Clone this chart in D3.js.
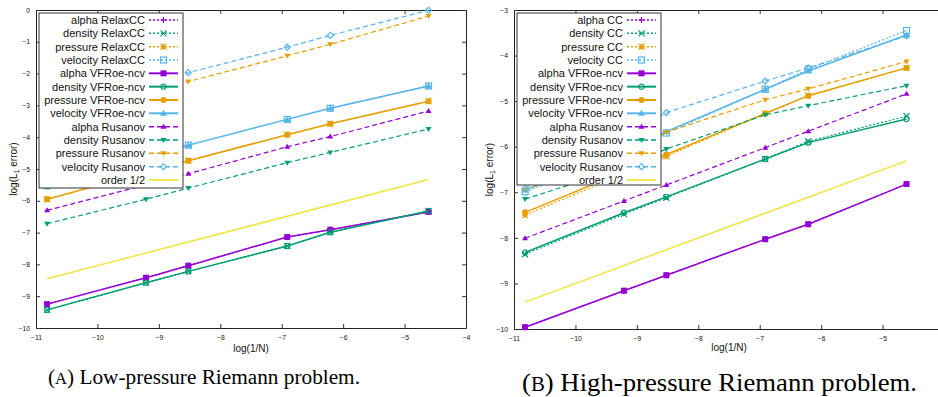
<!DOCTYPE html>
<html><head><meta charset="utf-8">
<script src="https://cdn.jsdelivr.net/npm/d3@7"></script>
<style>body{margin:0;background:#fff} svg{display:block}</style>
</head><body>
<svg id="c" width="938" height="397"></svg>
<script>
// ---------- DATA ----------
const logInvN = [-10.82, -9.21, -8.52, -6.91, -6.21, -4.61];
const orderX = [-10.82, -4.61];
const xTicks = [-11, -10, -9, -8, -7, -6, -5, -4];
const lowYTicks = [-10, -9, -8, -7, -6, -5, -4, -3, -2, -1, 0];
const highYTicks = [-10, -9, -8, -7, -6, -5, -4, -3];

const lowLabels = ["alpha RelaxCC", "density RelaxCC", "pressure RelaxCC", "velocity RelaxCC",
  "alpha VFRoe-ncv", "density VFRoe-ncv", "pressure VFRoe-ncv", "velocity VFRoe-ncv",
  "alpha Rusanov", "density Rusanov", "pressure Rusanov", "velocity Rusanov", "order 1/2"];
const highLabels = ["alpha CC", "density CC", "pressure CC", "velocity CC",
  "alpha VFRoe-ncv", "density VFRoe-ncv", "pressure VFRoe-ncv", "velocity VFRoe-ncv",
  "alpha Rusanov", "density Rusanov", "pressure Rusanov", "velocity Rusanov", "order 1/2"];

// Low-pressure Riemann problem
const lowAlphaRelaxCC    = [-9.25, -8.42, -8.04, -7.14, -6.91, -6.35];
const lowDensityRelaxCC  = [-9.43, -8.58, -8.22, -7.42, -6.99, -6.32];
const lowPressureRelaxCC = [-5.95, -5.10, -4.74, -3.92, -3.58, -2.87];
const lowVelocityRelaxCC = [-5.53, -4.62, -4.25, -3.44, -3.09, -2.39];
const lowAlphaVFRoe      = [-9.25, -8.42, -8.04, -7.14, -6.91, -6.35];
const lowDensityVFRoe    = [-9.43, -8.58, -8.22, -7.42, -6.99, -6.32];
const lowPressureVFRoe   = [-5.95, -5.10, -4.74, -3.92, -3.58, -2.87];
const lowVelocityVFRoe   = [-5.53, -4.62, -4.25, -3.44, -3.09, -2.39];
const lowAlphaRusanov    = [-6.30, -5.50, -5.15, -4.30, -3.98, -3.18];
const lowDensityRusanov  = [-6.72, -5.95, -5.60, -4.80, -4.48, -3.74];
const lowPressureRusanov = [-3.50, -2.65, -2.25, -1.44, -1.08, -0.19];
const lowVelocityRusanov = [-3.30, -2.40, -1.97, -1.17, -0.80, -0.01];
const lowOrder           = [-8.45, -5.33];

// High-pressure Riemann problem
const highAlphaCC        = [-9.96, -9.16, -8.82, -8.03, -7.70, -6.82];
const highDensityCC      = [-8.36, -7.48, -7.12, -6.27, -5.88, -5.33];
const highPressureCC     = [-7.50, -6.60, -6.21, -5.27, -4.88, -4.27];
const highVelocityCC     = [-6.99, -6.15, -5.70, -4.74, -4.30, -3.45];
const highAlphaVFRoe     = [-9.96, -9.16, -8.82, -8.03, -7.70, -6.82];
const highDensityVFRoe   = [-8.32, -7.45, -7.10, -6.27, -5.91, -5.39];
const highPressureVFRoe  = [-7.44, -6.55, -6.17, -5.27, -4.88, -4.27];
const highVelocityVFRoe  = [-6.95, -6.10, -5.67, -4.74, -4.34, -3.55];
const highAlphaRusanov   = [-8.01, -7.19, -6.84, -6.02, -5.66, -4.84];
const highDensityRusanov = [-7.15, -6.45, -6.05, -5.30, -5.10, -4.66];
const highPressureRusanov= [-6.95, -6.10, -5.68, -4.97, -4.73, -4.13];
const highVelocityRusanov= [-6.91, -5.75, -5.25, -4.56, -4.27, -3.57];
const highOrder          = [-9.41, -6.31];

// ---------- STYLE ----------
const C = {alpha: "#9400d3", density: "#009e73", pressure: "#e69f00", velocity: "#56b4e9", order: "#f0e442"};
const styleCC  = {dash: "2,2", width: 1.2};
const styleVF  = {dash: null, width: 1.5};
const styleRus = {dash: "5,3", width: 1.2};

function seriesList(vals, labels) {
  const colors = [C.alpha, C.density, C.pressure, C.velocity];
  const markersCC = ["plus", "cross", "star", "osquare"];
  const markersVF = ["fsquare", "ocircle", "fcircle", "ftri"];
  const markersRu = ["ftri_s", "finv", "finv", "odiam"];
  const out = [];
  for (let i = 0; i < 4; i++) out.push({label: labels[i], x: logInvN, y: vals[i], color: colors[i], st: styleCC, mk: markersCC[i]});
  for (let i = 0; i < 4; i++) out.push({label: labels[4 + i], x: logInvN, y: vals[4 + i], color: colors[i], st: styleVF, mk: markersVF[i]});
  for (let i = 0; i < 4; i++) out.push({label: labels[8 + i], x: logInvN, y: vals[8 + i], color: colors[i], st: styleRus, mk: markersRu[i]});
  out.push({label: labels[12], x: orderX, y: vals[12], color: C.order, st: {dash: null, width: 1.5}, mk: null});
  return out;
}

function drawMarker(g, type, color, cx, cy) {
  const m = g.append("g").attr("transform", `translate(${cx},${cy})`);
  const s = 3;
  switch (type) {
    case "plus": m.append("path").attr("d", `M${-s},0H${s}M0,${-s}V${s}`).attr("stroke", color).attr("stroke-width", 1.2).attr("fill", "none"); break;
    case "cross": m.append("path").attr("d", `M${-s},${-s}L${s},${s}M${-s},${s}L${s},${-s}`).attr("stroke", color).attr("stroke-width", 1.2).attr("fill", "none"); break;
    case "star": m.append("path").attr("d", `M${-s},0H${s}M0,${-s}V${s}M${-s},${-s}L${s},${s}M${-s},${s}L${s},${-s}`).attr("stroke", color).attr("stroke-width", 1.2).attr("fill", "none"); break;
    case "osquare": m.append("rect").attr("x", -s).attr("y", -s).attr("width", 2 * s).attr("height", 2 * s).attr("fill", "none").attr("stroke", color).attr("stroke-width", 1.2); break;
    case "fsquare": m.append("rect").attr("x", -s).attr("y", -s).attr("width", 2 * s).attr("height", 2 * s).attr("fill", color); break;
    case "ocircle": m.append("circle").attr("r", s - 0.4).attr("fill", "none").attr("stroke", color).attr("stroke-width", 1.2); break;
    case "fcircle": m.append("circle").attr("r", s).attr("fill", color); break;
    case "ftri": m.append("path").attr("d", `M0,${-s - 0.5}L${s + 0.5},${s - 0.5}L${-s - 0.5},${s - 0.5}Z`).attr("fill", color); break;
    case "ftri_s": m.append("path").attr("d", `M0,${-s}L${s},${s - 1}L${-s},${s - 1}Z`).attr("fill", color); break;
    case "finv": m.append("path").attr("d", `M0,${s}L${s},${-s + 1}L${-s},${-s + 1}Z`).attr("fill", color); break;
    case "odiam": m.append("path").attr("d", `M0,${-s}L${s},0L0,${s}L${-s},0Z`).attr("fill", "none").attr("stroke", color).attr("stroke-width", 1.2); break;
  }
}

const svg = d3.select("#c");
const FONT = "'Liberation Sans', Arial, sans-serif";
const W = 938;

function drawPanel(cfg) {
  const g = svg.append("g");
  const x = d3.scaleLinear().domain([-11, -4]).range([cfg.left, cfg.left + 430]);
  const y = d3.scaleLinear().domain(cfg.yDomain).range([cfg.bottom, cfg.top]);
  const right = cfg.left + 430;
  const fmt = d3.format("d");

  // ticks (inward, mirrored)
  const tk = 4;
  const axB = g.append("g").attr("transform", `translate(0,${cfg.bottom})`)
    .call(d3.axisBottom(x).tickValues(xTicks).tickSizeInner(-tk).tickSizeOuter(0).tickPadding(7)
      .tickFormat(v => x(v) > W - 6 ? "" : fmt(v)));
  const axT = g.append("g").attr("transform", `translate(0,${cfg.top})`)
    .call(d3.axisTop(x).tickValues(xTicks).tickSizeInner(-tk).tickSizeOuter(0).tickFormat(""));
  const axL = g.append("g").attr("transform", `translate(${cfg.left},0)`)
    .call(d3.axisLeft(y).tickValues(cfg.yTicks).tickSizeInner(-tk).tickSizeOuter(0).tickPadding(6).tickFormat(fmt));
  const axR = g.append("g").attr("transform", `translate(${right},0)`)
    .call(d3.axisRight(y).tickValues(cfg.yTicks).tickSizeInner(-tk).tickSizeOuter(0).tickFormat(""));
  [axB, axT, axL, axR].forEach(a => {
    a.select(".domain").attr("stroke", "#222");
    a.selectAll(".tick line").attr("stroke", "#333");
    a.selectAll("text").attr("font-family", FONT).attr("font-size", 6.8).attr("fill", "#111");
  });

  // series
  const line = d3.line().x(d => x(d[0])).y(d => y(d[1]));
  cfg.series.forEach(s => {
    const pts = s.x.map((v, i) => [v, s.y[i]]);
    g.append("path").attr("d", line(pts)).attr("fill", "none").attr("stroke", s.color)
      .attr("stroke-width", s.st.width).attr("stroke-dasharray", s.st.dash);
    if (s.mk) pts.forEach(p => drawMarker(g, s.mk, s.color, x(p[0]), y(p[1])));
  });

  // legend
  const L = cfg.legend;
  g.append("rect").attr("x", L.x).attr("y", L.y).attr("width", L.w).attr("height", L.h)
    .attr("fill", "#fff").attr("stroke", "#333").attr("stroke-width", 1);
  cfg.series.forEach((s, i) => {
    const cy = L.y + 7 + i * 13.33;
    g.append("text").attr("x", L.textX).attr("y", cy).attr("dy", "0.36em").attr("text-anchor", "end")
      .attr("font-family", FONT).attr("font-size", 11).attr("fill", "#111").text(s.label);
    g.append("line").attr("x1", L.l1).attr("x2", L.l2).attr("y1", cy).attr("y2", cy)
      .attr("stroke", s.color).attr("stroke-width", s.st === styleVF ? 2 : s.st.width + 0.3)
      .attr("stroke-dasharray", s.st.dash);
    if (s.mk) drawMarker(g, s.mk, s.color, (L.l1 + L.l2) / 2, cy);
  });

  // axis labels
  g.append("text").attr("x", (cfg.left + right) / 2).attr("y", cfg.xlabY).attr("text-anchor", "middle")
    .attr("font-family", FONT).attr("font-size", 10).attr("fill", "#111").text("log(1/N)");
  const yl = g.append("text").attr("transform", `translate(${cfg.ylabX},${(cfg.top + cfg.bottom) / 2}) rotate(-90)`)
    .attr("text-anchor", "middle").attr("font-family", FONT).attr("font-size", 10).attr("fill", "#111");
  yl.append("tspan").text("log(L");
  yl.append("tspan").attr("font-size", 7).attr("dy", 2).text("1");
  yl.append("tspan").attr("dy", -2).text(" error)");

  // caption
  const cap = svg.append("text").attr("x", cfg.cap.x).attr("y", cfg.cap.y)
    .attr("font-family", "'Liberation Serif', 'DejaVu Serif', serif").attr("font-size", cfg.cap.size)
    .attr("fill", "#000").attr("textLength", cfg.cap.w).attr("lengthAdjust", "spacingAndGlyphs");
  cap.append("tspan").text("(");
  cap.append("tspan").attr("font-size", cfg.cap.size * 0.78).text(cfg.cap.letter);
  cap.append("tspan").text(") " + cfg.cap.text);
}

drawPanel({
  left: 36, top: 10, bottom: 328, yDomain: [-10, 0], yTicks: lowYTicks,
  series: seriesList([lowAlphaRelaxCC, lowDensityRelaxCC, lowPressureRelaxCC, lowVelocityRelaxCC,
    lowAlphaVFRoe, lowDensityVFRoe, lowPressureVFRoe, lowVelocityVFRoe,
    lowAlphaRusanov, lowDensityRusanov, lowPressureRusanov, lowVelocityRusanov, lowOrder], lowLabels),
  legend: {x: 39, y: 13, w: 144, h: 175, textX: 145, l1: 149, l2: 178},
  xlabY: 352, ylabX: 17,
  cap: {x: 48, y: 384, size: 20.5, w: 312, letter: "A", text: "Low-pressure Riemann problem."}
});

drawPanel({
  left: 514, top: 10, bottom: 329, yDomain: [-10, -3], yTicks: highYTicks,
  series: seriesList([highAlphaCC, highDensityCC, highPressureCC, highVelocityCC,
    highAlphaVFRoe, highDensityVFRoe, highPressureVFRoe, highVelocityVFRoe,
    highAlphaRusanov, highDensityRusanov, highPressureRusanov, highVelocityRusanov, highOrder], highLabels),
  legend: {x: 517, y: 13, w: 144, h: 172, textX: 623, l1: 627, l2: 656},
  xlabY: 351, ylabX: 493,
  cap: {x: 522, y: 391, size: 26, w: 395, letter: "B", text: "High-pressure Riemann problem."}
});
</script>
</body></html>
